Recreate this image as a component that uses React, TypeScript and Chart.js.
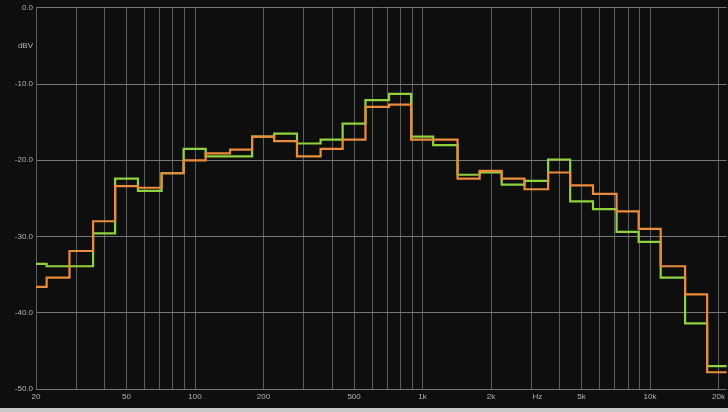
import React, { useEffect, useRef } from "react";
import { Chart, registerables } from "chart.js";

Chart.register(...registerables);

// 1/3-octave band centre frequencies (Hz)
const bands = [20, 25, 31.5, 40, 50, 63, 80, 100, 125, 160, 200, 250, 315, 400, 500, 630, 800, 1000, 1250, 1600, 2000, 2500, 3150, 4000, 5000, 6300, 8000, 10000, 12500, 16000, 20000];

// levels in dBV
const greenLevels = [-33.6, -33.9, -33.9, -29.6, -22.4, -24.0, -21.7, -18.5, -19.5, -19.5, -16.9, -16.5, -17.8, -17.3, -15.2, -12.1, -11.3, -16.9, -18.0, -21.9, -21.6, -23.2, -22.7, -19.9, -25.4, -26.4, -29.4, -30.7, -35.4, -41.4, -47.0];
const orangeLevels = [-36.6, -35.4, -31.9, -28.0, -23.4, -23.6, -21.7, -20.0, -19.1, -18.6, -16.9, -17.5, -19.5, -18.5, -17.3, -13.0, -12.7, -17.3, -17.3, -22.4, -21.4, -22.4, -23.8, -21.6, -23.3, -24.4, -26.7, -29.0, -33.9, -37.6, -47.8];

// grid frequencies and labelled ticks
const gridFreqs = [20, 30, 40, 50, 60, 70, 80, 90, 100, 200, 300, 400, 500, 600, 700, 800, 900, 1000, 2000, 3000, 4000, 5000, 6000, 7000, 8000, 9000, 10000, 20000];
const xLabels: Record<number, string> = { 20: "20", 50: "50", 100: "100", 200: "200", 500: "500", 1000: "1k", 2000: "2k", 3200: "Hz", 5000: "5k", 10000: "10k", 20000: "20k" };
const yTicks = [0, -5, -10, -20, -30, -40, -50];
const yLabels: Record<string, string> = { "0": "0.0", "-5": "dBV", "-10": "-10.0", "-20": "-20.0", "-30": "-30.0", "-40": "-40.0", "-50": "-50.0" };

const X_MIN = 20;
const X_MAX = 21700;

function stepData(levels: number[]) {
  const k = Math.pow(2, 1 / 6);
  const pts = bands.map((f, i) => ({ x: f / k, y: levels[i] }));
  pts.push({ x: bands[bands.length - 1] * k, y: levels[levels.length - 1] });
  return pts;
}

const bgPlugin = {
  id: "bg",
  beforeDraw(chart: any) {
    const ctx = chart.ctx;
    ctx.save();
    ctx.fillStyle = "#0e0e0e";
    ctx.fillRect(0, 0, chart.width, chart.height);
    ctx.restore();
  },
};

export default function App() {
  const ref = useRef<HTMLCanvasElement | null>(null);

  useEffect(() => {
    document.body.style.margin = "0";
    document.body.style.background = "#c8c8c8";
    if (!ref.current) return;
    const font = { family: "'Liberation Sans', Arial, sans-serif", size: 8 };
    const chart = new Chart(ref.current, {
      type: "line",
      data: {
        datasets: [
          {
            label: "orange",
            data: stepData(orangeLevels),
            borderColor: "#ea8c3c",
            borderWidth: 2.2,
            pointRadius: 0,
            stepped: "before",
            fill: false,
          },
          {
            label: "green",
            data: stepData(greenLevels),
            borderColor: "#8fd23e",
            borderWidth: 2.2,
            pointRadius: 0,
            stepped: "before",
            fill: false,
          },
        ],
      },
      options: {
        animation: false,
        responsive: false,
        devicePixelRatio: 1,
        layout: { padding: { top: 5, right: 0, left: 0, bottom: 0 } },
        plugins: { legend: { display: false }, tooltip: { enabled: false } },
        scales: {
          x: {
            type: "logarithmic",
            min: X_MIN,
            max: X_MAX,
            afterBuildTicks: (scale: any) => {
              const vals = [...gridFreqs, 3200].sort((a, b) => a - b);
              scale.ticks = vals.map((v) => ({ value: v }));
            },
            afterFit: (scale: any) => {
              scale.height = 19;
            },
            ticks: {
              autoSkip: false,
              maxRotation: 0,
              padding: 3,
              color: "#b4b4b4",
              font,
              callback: (v: any) => xLabels[v as number] ?? "",
            },
            grid: {
              drawTicks: false,
              lineWidth: 1,
              color: (c: any) => (c.tick && c.tick.value === 3200 ? "rgba(0,0,0,0)" : "#5e5e5e"),
            },
            border: { display: false },
          },
          y: {
            min: -50,
            max: 0,
            afterBuildTicks: (scale: any) => {
              scale.ticks = yTicks.map((v) => ({ value: v }));
            },
            afterFit: (scale: any) => {
              scale.width = 36;
            },
            ticks: {
              autoSkip: false,
              padding: 3,
              color: "#b4b4b4",
              font,
              callback: (v: any) => yLabels[String(v)] ?? "",
            },
            grid: {
              drawTicks: false,
              lineWidth: 1,
              color: (c: any) => (c.tick && c.tick.value === -5 ? "rgba(0,0,0,0)" : "#767676"),
            },
            border: { display: true, color: "#5e5e5e" },
          },
        },
      },
      plugins: [bgPlugin],
    } as any);
    return () => chart.destroy();
  }, []);

  return (
    <div style={{ width: 728, height: 412 }}>
      <canvas ref={ref} width={728} height={408} style={{ display: "block", width: 728, height: 408 }} />
    </div>
  );
}
